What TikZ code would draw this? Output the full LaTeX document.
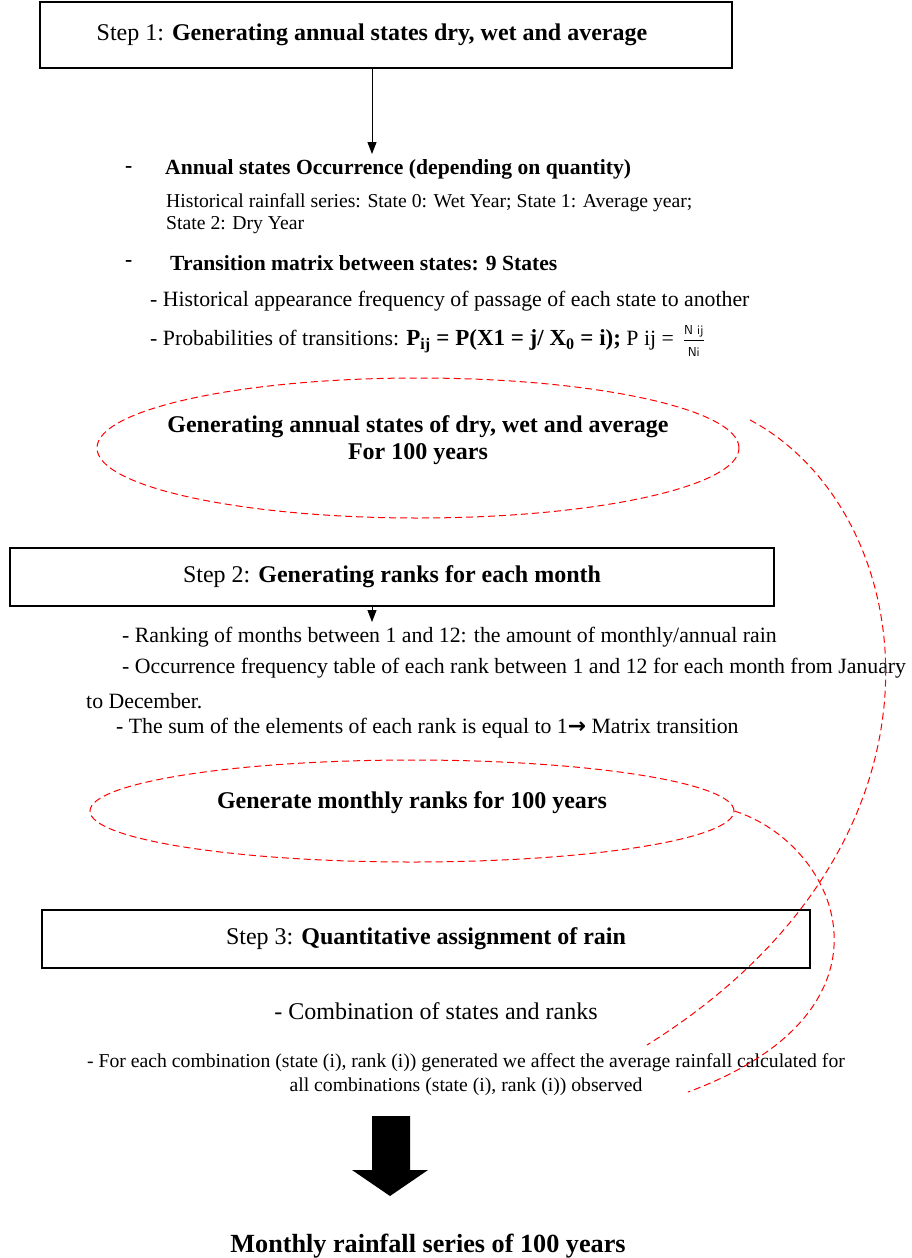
\documentclass[tikz,border=0pt]{standalone}
\usepackage{fontspec}
\setmainfont{Liberation Serif}
\newfontfamily\arrowfont{DejaVu Sans}
\usetikzlibrary{shapes.geometric,arrows.meta}
\tikzset{
    step-box/.style = {draw=black, line width=1.2pt, rectangle, inner sep=0pt, font=\fontsize{24}{28}\selectfont},
    red-oval/.style = {draw=red, line width=1pt, dash pattern=on 7pt off 4pt, ellipse, inner sep=0pt},
    oval-text/.style = {inner sep=0pt, yshift=8pt, align=center, font=\bfseries\fontsize{24}{27}\selectfont},
    body-text/.style = {anchor=west, inner sep=0pt, font=\fontsize{21.8}{25}\selectfont},
    bold-text/.style = {anchor=west, inner sep=0pt, font=\bfseries\fontsize{21.6}{25}\selectfont},
    small-text/.style = {inner sep=0pt, font=\fontsize{19.7}{22}\selectfont},
    red-link/.style = {draw=red, line width=1pt, dash pattern=on 7pt off 4pt},
    thin-arrow/.style = {-{Triangle[length=12pt,width=9pt]}, line width=1pt},
}
\newcommand{\fracpart}[1]{\mbox{\sffamily\fontsize{13}{14}\selectfont #1}}

\begin{document}
\begin{tikzpicture}[x=1pt, y=-1pt]
\useasboundingbox (0,0) rectangle (912,1258);

\node[step-box, minimum width=692pt, minimum height=66pt] (step1) at (386,35) {Step 1: \textbf{Generating annual states dry, wet and average}\hspace*{28pt}};
\coordinate (step1-end) at (372,154);
\draw[thin-arrow] (step1.south -| step1-end) -- (step1-end);

\node[bold-text] (bullet1) at (125,169) {-};
\node[bold-text] (occurrence) at (165,169) {Annual states Occurrence (depending on quantity)};
\node[small-text, anchor=west, align=left] (history) at (166,214) {Historical rainfall series: State 0: Wet Year; State 1: Average year;\\State 2: Dry Year};
\node[bold-text] (bullet2) at (125,263) {-};
\node[bold-text] (transition) at (170,263) {Transition matrix between states: 9 States};
\node[body-text] (frequency) at (150,301) {- Historical appearance frequency of passage of each state to another};
\node[body-text] (probability) at (150,341) {- Probabilities of transitions: {\bfseries\fontsize{23}{26}\selectfont P\textsubscript{ij} = P(X1 = j/ X\textsubscript{0} = i);} P ij = $\,\frac{\raisebox{3pt}{\fracpart{N ij}}}{\raisebox{-4pt}{\fracpart{Ni}}}$};

\node[red-oval, minimum width=642pt, minimum height=140pt, label={[oval-text]center:Generating annual states of dry, wet and average\\For 100 years}] (oval1) at (418,448) {};

\node[step-box, minimum width=764pt, minimum height=58pt] (step2) at (392,577) {Step 2: \textbf{Generating ranks for each month}};
\coordinate (step2-end) at (372,622);
\draw[thin-arrow] (step2.south -| step2-end) -- (step2-end);

\node[body-text] (ranking) at (122,637) {- Ranking of months between 1 and 12: the amount of monthly/annual rain};
\node[body-text] (table) at (122,668) {- Occurrence frequency table of each rank between 1 and 12 for each month from January};
\node[body-text] (december) at (86,701) {to December.};
\node[body-text] (sum) at (116,728) {- The sum of the elements of each rank is equal to 1{\arrowfont\bfseries →} Matrix transition};

\node[red-oval, minimum width=644pt, minimum height=102pt, label={[oval-text]center:Generate monthly ranks for 100 years}] (oval2) at (412,811) {};

\node[step-box, minimum width=768pt, minimum height=58pt] (step3) at (426,939) {Step 3: \textbf{Quantitative assignment of rain}};

\node[inner sep=0pt, font=\fontsize{24}{28}\selectfont] (combination) at (436,1011) {- Combination of states and ranks};
\node[small-text, align=center, font=\fontsize{19.7}{24}\selectfont] (average) at (466,1075) {- For each combination (state (i), rank (i)) generated we affect the average rainfall calculated for\\all combinations (state (i), rank (i)) observed};

\fill (372,1116) -- (410,1116) -- (410,1170) -- (428,1170) -- (390,1196) -- (352,1170) -- (372,1170) -- cycle;
\node[inner sep=0pt, font=\bfseries\fontsize{26.2}{30}\selectfont] (series) at (428,1246) {Monthly rainfall series of 100 years};

\coordinate (linkA-start) at (750,420);
\coordinate (linkA-end) at (647,1045);
\coordinate (linkB-end) at (688,1092);
\draw[red-link] (linkA-start) .. controls (920,510) and (975,840) .. (linkA-end);
\draw[red-link] (oval2.east) .. controls (840,845) and (910,1010) .. (linkB-end);
\end{tikzpicture}
\end{document}
